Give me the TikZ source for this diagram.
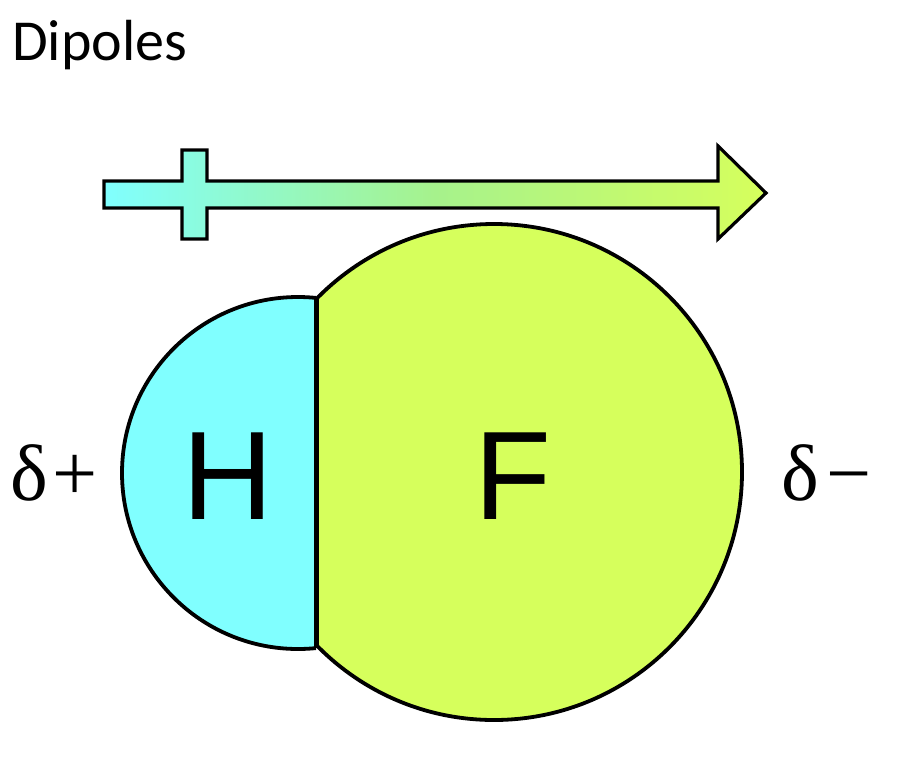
\documentclass[tikz,border=0pt]{standalone}
\usepackage{fontspec}
\usepackage{tikz}
\usetikzlibrary{positioning}
\newfontfamily\titlefont{Carlito}
\newfontfamily\atomfont{Liberation Sans}
\newfontfamily\deltafont{Liberation Serif}
\definecolor{hcyan}{HTML}{80FFFF}
\definecolor{fyellow}{HTML}{D6FF5C}
\definecolor{midgreen}{HTML}{A6F28C}
\pgfdeclarehorizontalshading{dipoleshade}{100bp}{%
  color(0bp)=(hcyan); color(25bp)=(hcyan); color(50bp)=(midgreen);
  color(75bp)=(fyellow); color(100bp)=(fyellow)}
\tikzset{
  atom/.style={
    draw=black,
    line width=3.8pt
  },
  bond/.style={
    draw=black,
    line width=5pt
  },
  dipole arrow/.style={
    draw=black,
    line width=3.2pt,
    line join=miter,
    shading=dipoleshade
  },
  atom label/.style={
    font=\atomfont\fontsize{126}{130}\selectfont,
    inner sep=0pt,
    anchor=base
  },
  charge label/.style={
    font=\deltafont\fontsize{80}{90}\selectfont,
    inner sep=0pt,
    anchor=base west
  },
  title/.style={
    font=\titlefont\fontsize{58}{70}\selectfont,
    inner sep=0pt,
    anchor=base west
  }
}

\begin{document}
\begin{tikzpicture}[x=1pt,y=-1pt]
  \useasboundingbox (0,0) rectangle (910,780);

  \node[title] (T) at (12,60) {Dipoles};

  % dipole arrow, crossed tail at the positive end
  \path[dipole arrow] (104,181) -- (182,181) -- (182,150) -- (207,150)
    -- (207,181) -- (718,181) -- (718,146) -- (766,193) -- (718,239)
    -- (718,208) -- (207,208) -- (207,239) -- (182,239) -- (182,208)
    -- (104,208) -- cycle;

  % hydrogen part
  \begin{scope}
    \clip (0,0) rectangle (316,780);
    \draw[atom,fill=hcyan] (298,473) circle[radius=176];
  \end{scope}
  % fluorine part
  \begin{scope}
    \clip (316,0) rectangle (910,780);
    \draw[atom,fill=fyellow] (494,472) circle[radius=248];
  \end{scope}

  \coordinate (bondtop) at (316,298);
  \coordinate (bondbot) at (316,648);
  \draw[bond] (bondtop) -- (bondbot);

  \node[atom label] (H) at (228,519) {H};
  \node[atom label] (F) at (513,519) {F};

  \node[charge label] (dplus) at (10,500) {δ\kern5pt+};
  \node[charge label] (dminus) at (781,500) {δ\kern8pt−};
\end{tikzpicture}
\end{document}
